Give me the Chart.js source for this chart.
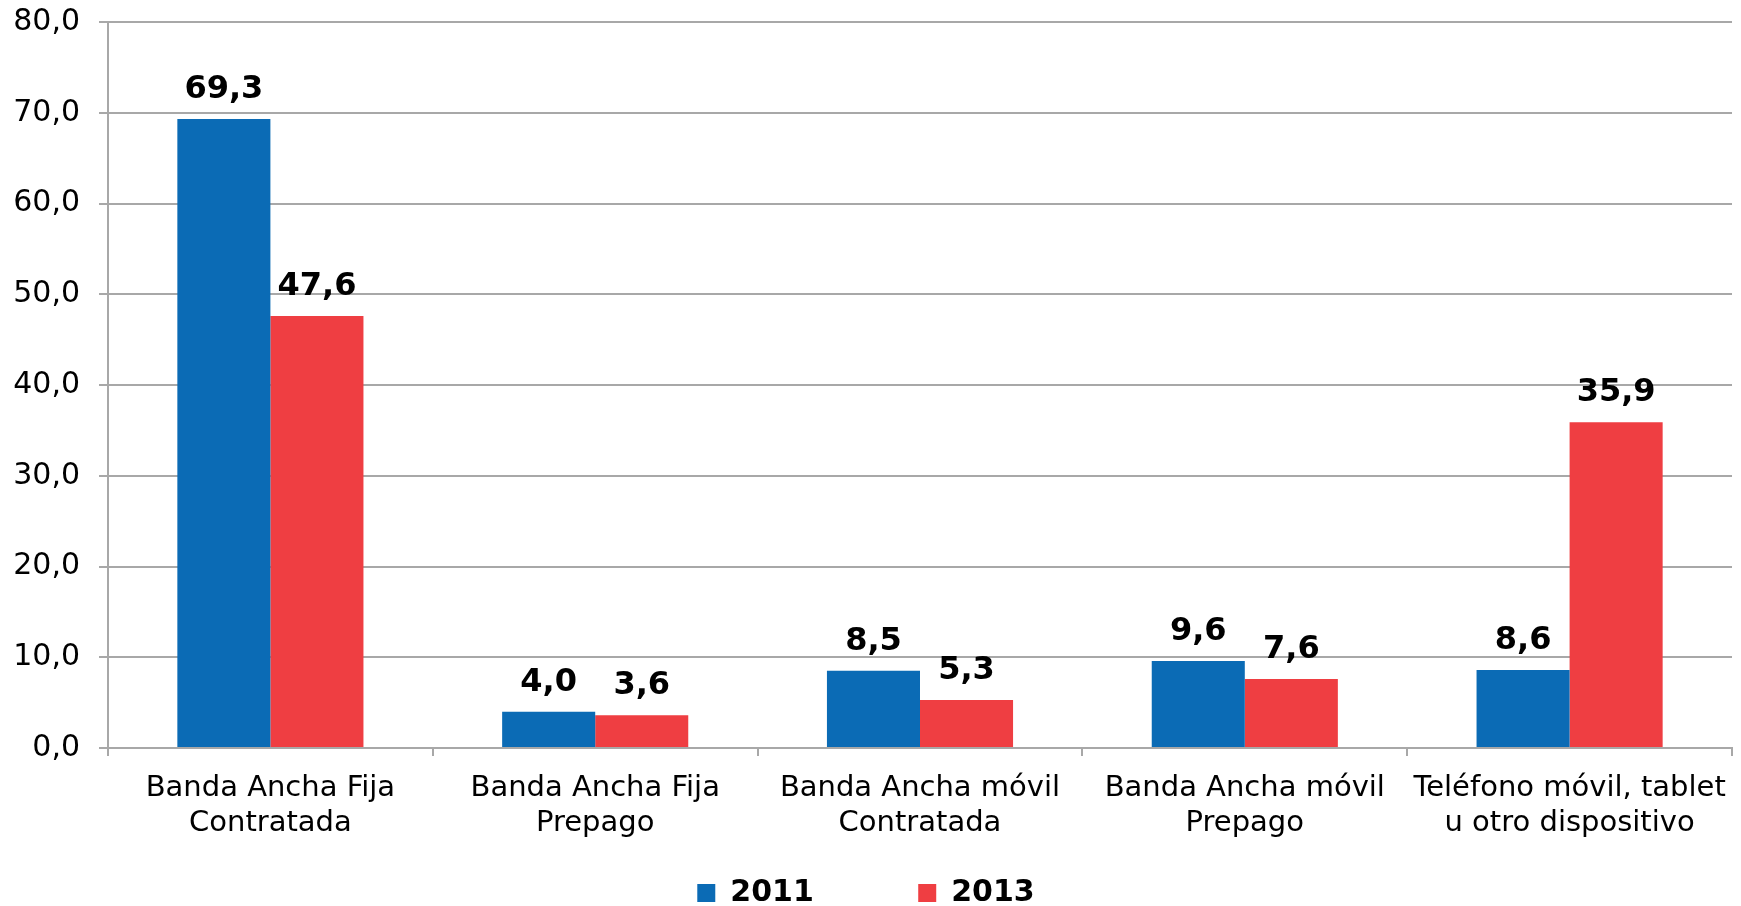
<!DOCTYPE html>
<html>
<head>
<meta charset="utf-8">
<script src="https://cdn.jsdelivr.net/npm/chart.js@4"></script>
<style>
html,body{margin:0;padding:0;background:#fff;}
#wrap{width:1741px;height:906px;position:relative;}
</style>
</head>
<body>
<div id="wrap"><canvas id="c"></canvas></div>
<script>
const categories = [
  ["Banda Ancha Fija", "Contratada"],
  ["Banda Ancha Fija", "Prepago"],
  ["Banda Ancha móvil", "Contratada"],
  ["Banda Ancha móvil", "Prepago"],
  ["Teléfono móvil, tablet", "u otro dispositivo"]
];
const seriesNames = ["2011", "2013"];
const values2011 = [69.3, 4.0, 8.5, 9.6, 8.6];
const values2013 = [47.6, 3.6, 5.3, 7.6, 35.9];
const yTicks = [0, 10, 20, 30, 40, 50, 60, 70, 80];

const fmt = v => v.toFixed(1).replace('.', ',');
const FONT = "'DejaVu Sans', Verdana, sans-serif";
const GRID = '#a8a8a8';
const NBSP = '\u00a0';

const labelPlugin = {
  id: 'barLabels',
  afterDatasetsDraw(chart) {
    const ctx = chart.ctx;
    ctx.save();
    ctx.font = "bold 32px " + FONT;
    ctx.fillStyle = '#000';
    ctx.textAlign = 'center';
    ctx.textBaseline = 'alphabetic';
    chart.data.datasets.forEach((ds, di) => {
      const meta = chart.getDatasetMeta(di);
      meta.data.forEach((bar, i) => {
        ctx.fillText(fmt(ds.data[i]), bar.x, bar.y - 21);
      });
    });
    ctx.restore();
  }
};

new Chart(document.getElementById('c'), {
  type: 'bar',
  data: {
    labels: categories,
    datasets: [
      { label: seriesNames[0], data: values2011, backgroundColor: '#0B6BB5', borderWidth: 0 },
      { label: seriesNames[1], data: values2013, backgroundColor: '#EF3E42', borderWidth: 0 }
    ]
  },
  options: {
    responsive: true,
    maintainAspectRatio: false,
    animation: false,
    devicePixelRatio: 1,
    layout: { padding: { left: 0, right: 9, top: 22, bottom: -12 } },
    datasets: { bar: { categoryPercentage: 0.573, barPercentage: 1.0 } },
    plugins: {
      tooltip: { enabled: false },
      legend: {
        position: 'bottom',
        labels: {
          color: '#000',
          font: { family: FONT, size: 30, weight: 'bold' },
          boxWidth: 18,
          boxHeight: 18,
          padding: 0,
          generateLabels(chart) {
            return chart.data.datasets.map((ds, i) => ({
              text: i < chart.data.datasets.length - 1 ? ds.label + NBSP.repeat(10) : ds.label,
              fillStyle: ds.backgroundColor,
              strokeStyle: ds.backgroundColor,
              lineWidth: 0,
              hidden: false,
              datasetIndex: i,
              fontColor: '#000'
            }));
          }
        }
      }
    },
    scales: {
      x: {
        afterFit(s) { s.height = 130; },
        grid: { drawOnChartArea: false, offset: true, color: GRID, lineWidth: 2, tickLength: 8 },
        border: { color: GRID, width: 2 },
        ticks: {
          color: '#000',
          font: { family: FONT, size: 29, lineHeight: 1.24 },
          padding: 14,
          maxRotation: 0,
          autoSkip: false
        }
      },
      y: {
        min: 0,
        max: 80,
        afterFit(s) { s.width = 108; s.paddingTop = 0; s.paddingBottom = 0; },
        afterBuildTicks(axis) { axis.ticks = yTicks.map(v => ({ value: v })); },
        grid: { color: GRID, lineWidth: 2, tickLength: 9 },
        border: { color: GRID, width: 2 },
        ticks: {
          color: '#000',
          font: { family: FONT, size: 30, lineHeight: 1.0 },
          padding: 19,
          callback: v => fmt(v)
        }
      }
    }
  },
  plugins: [labelPlugin]
});
</script>
</body>
</html>
